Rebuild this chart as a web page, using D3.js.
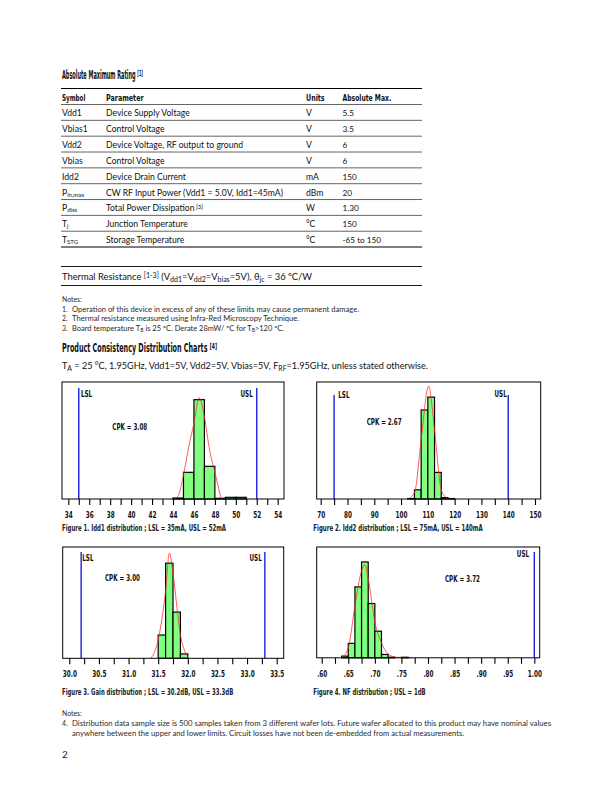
<!DOCTYPE html>
<html><head><meta charset="utf-8">
<script src="https://cdn.jsdelivr.net/npm/d3@7"></script>
<style>html,body{margin:0;padding:0;background:#fff}svg{display:block}</style>
</head><body>
<script>
// ---------------- DATA ----------------
const tableHeader = ["Symbol", "Parameter", "Units", "Absolute Max."];
const tableSymbols = [["Vdd1"], ["Vbias1"], ["Vdd2"], ["Vbias"], ["Idd2"], ["P", "in,max"], ["P", "diss"], ["T", "j"], ["T", "STG"]];
const tableParams = ["Device Supply Voltage", "Control Voltage", "Device Voltage, RF output to ground", "Control Voltage", "Device Drain Current", "CW RF Input Power (Vdd1 = 5.0V, Idd1=45mA)", "Total Power Dissipation", "Junction Temperature", "Storage Temperature"];
const tableUnits = ["V", "V", "V", "V", "mA", "dBm", "W", "°C", "°C"];
const tableMax = ["5.5", "3.5", "6", "6", "150", "20", "1.30", "150", "-65 to 150"];

// Chart 1: Idd1 (mA)
const idd1Edges = [44, 45, 46, 47, 48, 49, 50, 51];
const idd1Counts = [3, 80, 298, 98, 2, 5, 5];
const idd1Fit = [[44.1, 0], [44.5, 10], [45, 72], [45.5, 156], [46, 227], [46.5, 304], [47, 246], [47.5, 146], [48, 80], [48.6, 0]];
const idd1Ticks = [34, 36, 38, 40, 42, 44, 46, 48, 50, 52, 54];
const idd1Limits = { LSL: 35, USL: 52, CPK: "3.08" };

// Chart 2: Idd2 (mA)
const idd2Edges = [102.5, 105, 107.5, 110, 112.5, 115, 117.5, 120];
const idd2Counts = [1, 20, 194, 222, 58, 3, 1];
const idd2Fit = [[102.5, 0], [105, 13], [107.5, 129], [110.3, 246], [112.5, 150], [115, 20], [117.5, 0]];
const idd2Ticks = [70, 80, 90, 100, 110, 120, 130, 140, 150];
const idd2Limits = { LSL: 75, USL: 140, CPK: "2.67" };

// Chart 3: Gain (dB)
const gainEdges = [31.5, 31.625, 31.75, 31.875, 32.0];
const gainCounts = [69, 282, 137, 13];
const gainFit = [[31.38, 0], [31.5, 55], [31.625, 200], [31.69, 312], [31.75, 250], [31.875, 70], [32.0, 4]];
const gainTicks = [30.0, 30.5, 31.0, 31.5, 32.0, 32.5, 33.0, 33.5];
const gainLimits = { LSL: 30.2, USL: 33.3, CPK: "3.00" };

// Chart 4: NF (dB)
const nfEdges = [0.6375, 0.65, 0.6625, 0.675, 0.6875, 0.70, 0.7125, 0.725, 0.7375, 0.75, 0.7625];
const nfCounts = [3, 26, 128, 173, 98, 48, 6, 1, 0, 1];
const nfFit = [[0.6375, 0], [0.65, 18], [0.6625, 94], [0.675, 157], [0.681, 168], [0.6875, 143], [0.70, 65], [0.7125, 27], [0.725, 7], [0.74, 1], [0.77, 0]];
const nfTicks = [0.60, 0.65, 0.70, 0.75, 0.80, 0.85, 0.90, 0.95, 1.00];
const nfLimits = { LSL: null, USL: 1.0, CPK: "3.72" };

const captions = [
  "Figure 1. Idd1 distribution ; LSL = 35mA, USL = 52mA",
  "Figure 2. Idd2 distribution  ; LSL = 75mA, USL = 140mA",
  "Figure 3. Gain distribution ; LSL = 30.2dB, USL = 33.3dB",
  "Figure 4. NF distribution ; USL = 1dB"
];

// ---------------- DRAW ----------------
const W = 612, H = 792;
const svg = d3.select("body").append("svg").attr("width", W).attr("height", H);
const NARROW = "'Liberation Sans Narrow','DejaVu Sans Condensed','Arial Narrow',sans-serif";
const BODY = "Lato,'Open Sans','Noto Sans',sans-serif";

function rich(x, y, segs, o) {
  const scaled = !!o.width;
  const t = svg.append("text").attr("x", scaled ? 0 : x).attr("y", scaled ? 0 : y)
    .attr("font-family", o.family || BODY).attr("font-size", o.size)
    .attr("font-weight", o.weight || "normal").attr("fill", o.fill || "#111")
    .attr("text-anchor", o.anchor || "start");
  segs.forEach(s => {
    if (typeof s === "string") t.append("tspan").text(s);
    else t.append("tspan").text(s.t).attr("font-size", o.size * (s.k || 0.68))
      .attr("baseline-shift", s.s === "sup" ? "35%" : "-22%");
  });
  if (scaled) {
    const bw = t.node().getBBox().width;
    t.attr("transform", `translate(${x},${y}) scale(${(o.width / bw).toFixed(4)},1)`);
  } else if (o.len) t.attr("textLength", o.len).attr("lengthAdjust", "spacingAndGlyphs");
  else if (o.cond) condense(t.node(), o.cond);
  return t;
}
function condense(node, f) {
  const L = node.getComputedTextLength();
  if (L > 0) { node.setAttribute("textLength", (L * f).toFixed(2)); node.setAttribute("lengthAdjust", "spacingAndGlyphs"); }
}
function hline(x1, x2, y, w, c) {
  svg.append("line").attr("x1", x1).attr("x2", x2).attr("y1", y).attr("y2", y)
    .attr("stroke", c || "#000").attr("stroke-width", w);
}

// Title & table
rich(62, 79, ["Absolute Maximum Rating ", { t: "[1]", s: "sup", k: 0.7 }], { family: NARROW, weight: "bold", size: 11.8, width: 81 });
const colX = [62, 106, 306, 342.5];
hline(61, 422, 88.5, 1.1);
tableHeader.forEach((h, i) => rich(colX[i], 100.5, [h], { family: NARROW, weight: "bold", size: 8.8, len: [23.4, 37.6, 18.6, 48.7][i] }));
const rowTop = 104.5, rowH = 15.84;
hline(61, 422, rowTop, 0.7, "#222");
tableSymbols.forEach((s, i) => {
  const yb = rowTop + rowH * i + 11.8;
  const segs = s.length === 1 ? [s[0]] : [s[0], { t: s[1], s: "sub", k: 0.7 }];
  rich(colX[0], yb, segs, { size: 8.6 });
  const p = [tableParams[i]];
  if (i === 6) p.push({ t: " [3]", s: "sup", k: 0.68 });
  rich(colX[1], yb, p, { size: 8.6 });
  rich(colX[2], yb, [tableUnits[i]], { size: 8.6 });
  rich(colX[3], yb, [tableMax[i]], { size: 8.2 });
  const last = i === tableSymbols.length - 1;
  hline(61, 422, rowTop + rowH * (i + 1), last ? 1.1 : 0.7, last ? "#000" : "#222");
});

// Thermal resistance
hline(61, 422, 266.5, 0.9);
rich(62, 279.5, ["Thermal Resistance ", { t: "[1-3]", s: "sup", k: 0.75 }, "  (V", { t: "dd1", s: "sub", k: 0.75 }, "=V", { t: "dd2", s: "sub", k: 0.75 }, "=V", { t: "bias", s: "sub", k: 0.75 }, "=5V), θ", { t: "jc", s: "sub", k: 0.75 }, " = 36 ºC/W"], { size: 9.3, len: 250 });
hline(61, 422, 285.5, 0.9);

// Notes
const nf = { size: 6.9, fill: "#2a2a2a" };
rich(62, 301.5, ["Notes:"], nf);
rich(62, 311.5, ["1."], nf);
rich(72, 311.5, ["Operation of this device in excess of any of these limits may cause permanent damage."], Object.assign({ len: 287 }, nf));
rich(62, 321, ["2."], nf);
rich(72, 321, ["Thermal resistance measured using Infra-Red Microscopy Technique."], Object.assign({ len: 227 }, nf));
rich(62, 330.5, ["3."], nf);
rich(72, 330.5, ["Board temperature T", { t: "B", s: "sub" }, "  is 25 ºC. Derate 28mW/ ºC  for T", { t: "B", s: "sub" }, ">120 ºC."], Object.assign({ len: 212 }, nf));

// Section heading
rich(62, 351.5, ["Product Consistency Distribution Charts ", { t: "[4]", s: "sup", k: 0.7 }], { family: NARROW, weight: "bold", size: 11.8, width: 155 });
rich(62, 369, ["T", { t: "A", s: "sub", k: 0.75 }, " = 25 °C, 1.95GHz, Vdd1=5V, Vdd2=5V, Vbias=5V, F", { t: "RF", s: "sub", k: 0.75 }, "=1.95GHz, unless stated otherwise."], { size: 9, len: 366 });

// Charts
const charts = [
  { edges: idd1Edges, counts: idd1Counts, fit: idd1Fit, ticks: idd1Ticks, minor: 1, lim: idd1Limits, fmt: d3.format("d"),
    domain: [34, 54], range: [68.3, 277.7], box: [62, 284, 382, 499], ymax: 351, limTop: 388,
    lsl: [81, 396.5], usl: [252.7, 396.5], cpk: [112.3, 429.7], cap: [62, 531, 164] },
  { edges: idd2Edges, counts: idd2Counts, fit: idd2Fit, ticks: idd2Ticks, minor: 5, lim: idd2Limits, fmt: d3.format("d"),
    domain: [70, 150], range: [320.7, 535], box: [316.7, 540.7, 382, 499], ymax: 255, limTop: 395,
    lsl: [338.3, 398], usl: [506.7, 396.5], cpk: [366.7, 424.7], cap: [313.3, 531, 169.4] },
  { edges: gainEdges, counts: gainCounts, fit: gainFit, ticks: gainTicks, minor: 0.25, lim: gainLimits, fmt: d3.format(".1f"),
    domain: [30, 33.5], range: [69.3, 276.7], box: [62.7, 283.7, 547, 658.3], ymax: 330, limTop: 552,
    lsl: [82.3, 561], usl: [261.7, 561], cpk: [105, 581.3], cap: [62, 695, 171.3] },
  { edges: nfEdges, counts: nfCounts, fit: nfFit, ticks: nfTicks, minor: 0.025, lim: nfLimits, fmt: d => d3.format(".2f")(d).replace(/^0/, ""),
    domain: [0.6, 1.0], range: [321.7, 534.3], box: [316.7, 539.7, 547, 657.8], ymax: 200, limTop: 552,
    lsl: null, usl: [529, 557.3], cpk: [445, 582.3], cap: [313.3, 695, 112.4] }
];

charts.forEach((c, ci) => {
  const [L, R, T, B] = c.box;
  const g = svg.append("g");
  const x = d3.scaleLinear().domain(c.domain).range(c.range);
  const y = d3.scaleLinear().domain([0, c.ymax]).range([B, T]);

  g.append("rect").attr("x", L).attr("y", T).attr("width", R - L).attr("height", B - T).attr("fill", "#fff");

  g.selectAll("rect.bar").data(c.counts).join("rect").attr("class", "bar")
    .attr("x", (d, i) => x(c.edges[i])).attr("width", (d, i) => x(c.edges[i + 1]) - x(c.edges[i]))
    .attr("y", d => y(d)).attr("height", d => B - y(d))
    .attr("fill", "#80ff80").attr("stroke", "#000").attr("stroke-width", 1.2);

  g.append("path").datum(c.fit)
    .attr("d", d3.line().x(d => x(d[0])).y(d => y(d[1])).curve(d3.curveMonotoneX))
    .attr("fill", "none").attr("stroke", "#ff2a2a").attr("stroke-width", 0.9).attr("stroke-opacity", 0.85);

  ["LSL", "USL"].forEach(k => {
    if (c.lim[k] == null) return;
    g.append("line").attr("x1", x(c.lim[k])).attr("x2", x(c.lim[k])).attr("y1", c.limTop).attr("y2", B)
      .attr("stroke", "#1f1fe0").attr("stroke-width", 1.4);
  });

  g.append("rect").attr("x", L).attr("y", T).attr("width", R - L).attr("height", B - T)
    .attr("fill", "none").attr("stroke", "#000").attr("stroke-width", 1);

  const lab = { family: NARROW, weight: "bold", size: 8.2, fill: "#111", cond: 0.76 };
  if (c.lsl) rich(c.lsl[0], c.lsl[1], ["LSL"], lab);
  if (c.usl) rich(c.usl[0], c.usl[1], ["USL"], Object.assign({ anchor: "end" }, lab));
  rich(c.cpk[0], c.cpk[1], ["CPK = " + c.lim.CPK], lab);

  // axis
  const n = Math.round((c.domain[1] - c.domain[0]) / c.minor);
  const all = d3.range(n + 1).map(i => c.domain[0] + i * c.minor);
  const major = new Set(c.ticks.map(v => v.toFixed(4)));
  const ax = d3.axisBottom(x).tickValues(all).tickSize(6).tickPadding(7)
    .tickFormat(d => major.has(d.toFixed(4)) ? c.fmt(d) : "");
  const axg = g.append("g").attr("transform", `translate(0,${B})`).call(ax);
  axg.select(".domain").remove();
  axg.selectAll(".tick line").attr("stroke", "#000").attr("stroke-width", 1.1);
  axg.selectAll(".tick text").attr("font-family", NARROW).attr("font-weight", "bold").attr("font-size", 8.4).attr("fill", "#111")
    .each(function () { condense(this, 0.76); });

  rich(c.cap[0], c.cap[1], [captions[ci]], { family: NARROW, weight: "bold", size: 8.4, len: c.cap[2], fill: "#222" });
});

// Bottom notes
rich(62, 715.5, ["Notes:"], nf);
rich(62, 725.5, ["4."], nf);
rich(72, 725.5, ["Distribution data sample size is 500 samples taken from 3 different wafer lots. Future wafer allocated to this product may have nominal values"], Object.assign({ len: 479 }, nf));
rich(72, 735.5, ["anywhere between the upper and lower limits. Circuit losses have not been de-embedded from actual measurements."], Object.assign({ len: 392 }, nf));
rich(62, 758, ["2"], { size: 10, fill: "#222" });
</script>
</body></html>
